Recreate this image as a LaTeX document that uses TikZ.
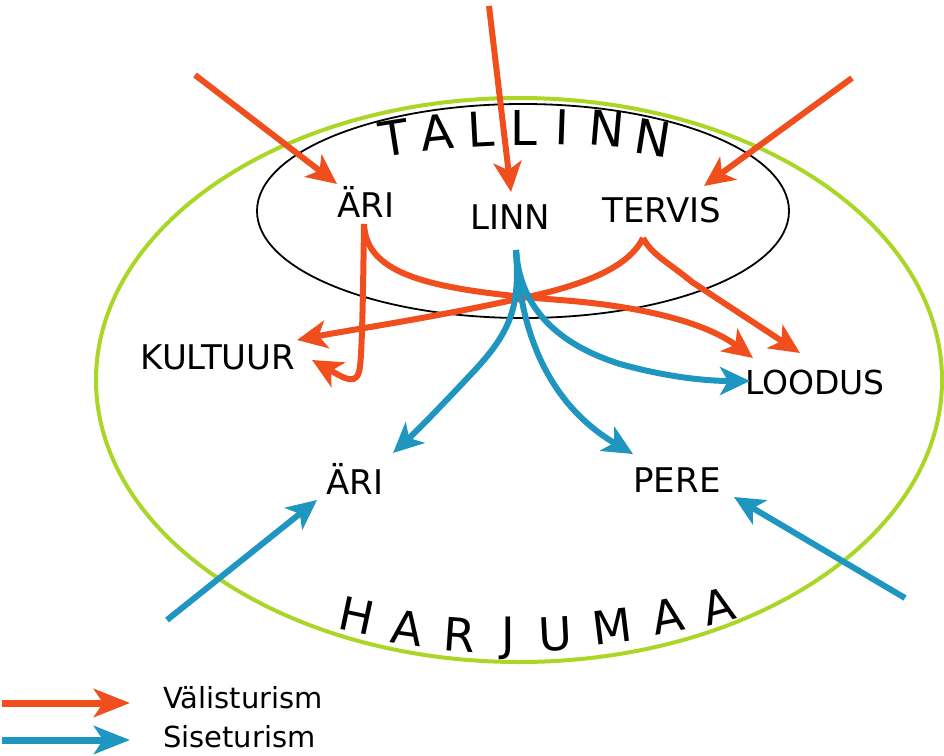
\documentclass[tikz,border=0pt]{standalone}
\usepackage{fontspec}
\setmainfont{DejaVu Sans}
\usetikzlibrary{arrows.meta}
\definecolor{orng}{RGB}{240,78,28}
\definecolor{blu}{RGB}{30,150,192}
\definecolor{lime}{RGB}{170,214,40}
\begin{document}
\begin{tikzpicture}[x=1pt,y=-1pt,
  lbl/.style={font=\fontsize{34}{40}\selectfont, inner sep=0pt},
  leg/.style={font=\fontsize{29}{34}\selectfont, inner sep=0pt, anchor=west},
  bigT/.style={font=\fontsize{48}{54}\selectfont, inner sep=0pt},
  bigH/.style={font=\fontsize{46}{52}\selectfont, inner sep=0pt},
  oarr/.style={draw=orng, line width=6pt, -{Stealth[length=30pt,width=28pt,inset=8pt]}},
  barr/.style={draw=blu, line width=6pt, -{Stealth[length=30pt,width=28pt,inset=8pt]}},
  legarr/.style={line width=7pt, -{Stealth[length=36pt,width=28pt,inset=9pt]}}]
\useasboundingbox (0,0) rectangle (944,755);

% regions
\draw[lime, line width=4pt] (519,380) ellipse [x radius=423, y radius=282];
\draw[black, line width=1.8pt] (523,211) ellipse [x radius=266, y radius=107];

% TALLINN letters
\node[bigT, rotate=9]  (t1) at (394,138) {T};
\node[bigT, rotate=6]  (t2) at (437,132) {A};
\node[bigT, rotate=3]  (t3) at (481,129) {L};
\node[bigT, rotate=0]  (t4) at (524,128) {L};
\node[bigT, rotate=-2] (t5) at (562,127) {I};
\node[bigT, rotate=-5] (t6) at (607,129) {N};
\node[bigT, rotate=-9] (t7) at (653,138) {N};

% HARJUMAA letters
\node[bigH, rotate=-12] (h1) at (357,616) {H};
\node[bigH, rotate=-8]  (h2) at (407,628) {A};
\node[bigH, rotate=-4]  (h3) at (460,635) {R};
\node[bigH, rotate=0]   (h4) at (508,638) {J};
\node[bigH, rotate=3]   (h5) at (555,634) {U};
\node[bigH, rotate=7]   (h6) at (612,626) {M};
\node[bigH, rotate=11]  (h7) at (668,616) {A};
\node[bigH, rotate=15]  (h8) at (718,606) {A};

% labels
\node[lbl] (ariT) at (366,202) {ÄRI};
\node[lbl] (linn) at (510,217) {LINN};
\node[lbl] (tervis) at (662,210) {TERVIS};
\node[lbl] (kultuur) at (218,357) {KULTUUR};
\node[lbl, font=\fontsize{33}{40}\selectfont] (loodus) at (815,382) {LOODUS};
\node[lbl] (ariB) at (355,479) {ÄRI};
\node[lbl] (pere) at (677,480) {PERE};

% coordinates
\coordinate (inA) at (195,75);
\coordinate (ariTtip) at (337,184);
\coordinate (inL) at (489,6);
\coordinate (linnTip) at (511,192);
\coordinate (inT) at (852,78);
\coordinate (tervisTip) at (704,186);
\coordinate (ariSrc) at (364,224);
\coordinate (tervisSrc) at (643,238);
\coordinate (linnSrc) at (516,250);
\coordinate (kulTip1) at (297,340);
\coordinate (kulTip2) at (312,360);
\coordinate (looTip1) at (753,358);
\coordinate (looTip2) at (800,353);
\coordinate (looTip3) at (750,381);
\coordinate (ariBTip) at (393,453);
\coordinate (pereTip) at (633,454);
\coordinate (inAB) at (167,620);
\coordinate (ariBTip2) at (317,500);
\coordinate (inP) at (905,598);
\coordinate (pereTip2) at (734,497);

% orange arrows
\draw[oarr] (inA) -- (ariTtip);
\draw[oarr] (inL) -- (linnTip);
\draw[oarr] (inT) -- (tervisTip);
\draw[oarr] (ariSrc) .. controls (363,300) and (362,350) .. (360,366)
   .. controls (358,388) and (344,378) .. (kulTip2);
\draw[oarr] (ariSrc) .. controls (366,275) and (430,290) .. (560,300)
   .. controls (640,306) and (705,322) .. (looTip1);
\draw[oarr] (tervisSrc) .. controls (630,265) and (590,285) .. (513,300)
   .. controls (430,318) and (350,330) .. (kulTip1);
\draw[oarr] (tervisSrc) .. controls (652,255) and (668,262) .. (692,282) -- (looTip2);

% blue arrows
\draw[barr] (linnSrc) .. controls (520,305) and (512,330) .. (475,370)
   .. controls (445,402) and (418,430) .. (ariBTip);
\draw[barr] (linnSrc) .. controls (520,335) and (550,405) .. (pereTip);
\draw[barr] (linnSrc) .. controls (520,310) and (560,345) .. (620,364)
   .. controls (670,378) and (710,381) .. (looTip3);
\draw[barr] (inAB) -- (ariBTip2);
\draw[barr] (inP) -- (pereTip2);

% legend
\coordinate (l1s) at (2,703);
\coordinate (l1e) at (130,703);
\coordinate (l2s) at (2,740);
\coordinate (l2e) at (130,740);
\draw[legarr, orng] (l1s) -- (l1e);
\draw[legarr, blu] (l2s) -- (l2e);
\node[leg] (legV) at (163,698) {Välisturism};
\node[leg] (legS) at (163,737) {Siseturism};
\end{tikzpicture}
\end{document}
